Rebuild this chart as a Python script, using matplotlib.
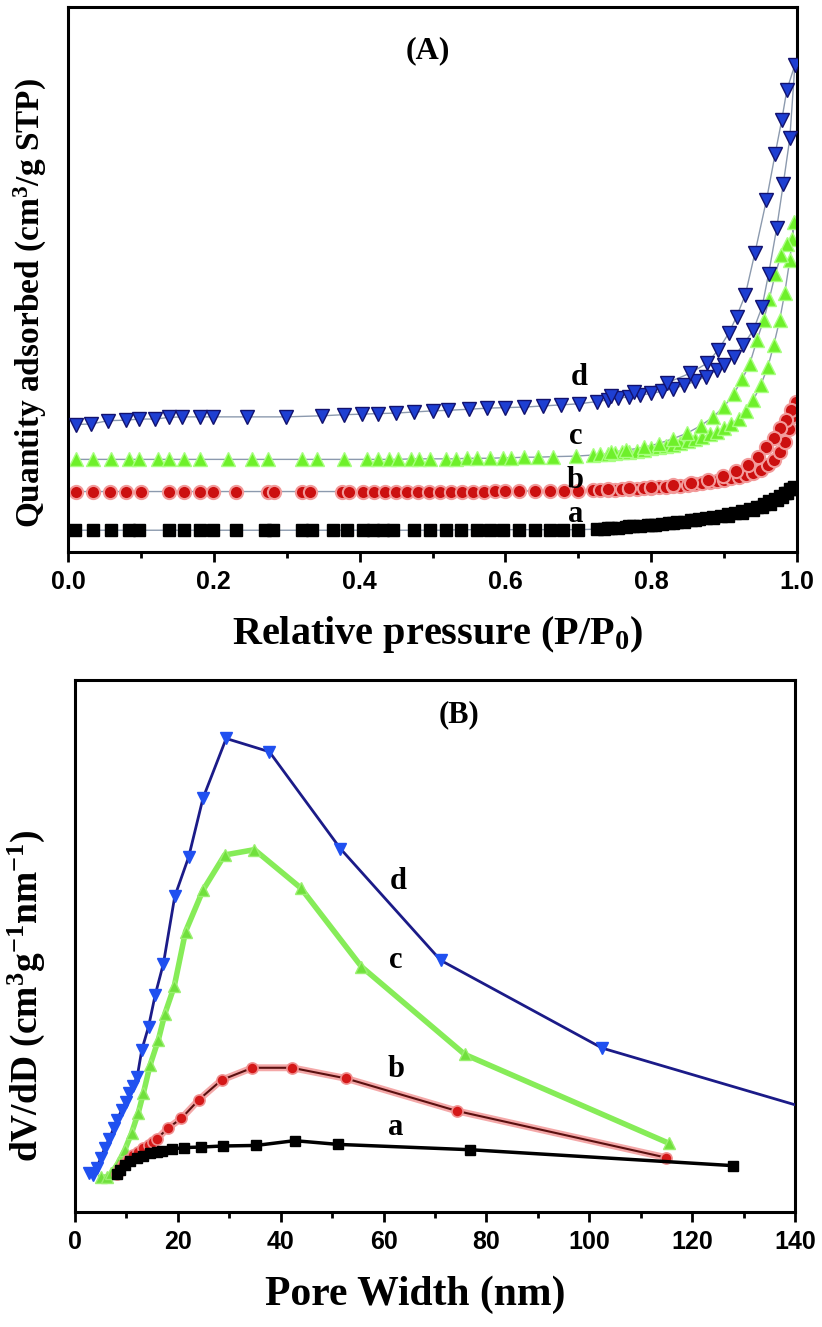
import numpy as np
import matplotlib
matplotlib.use('Agg')
import matplotlib.pyplot as plt
from matplotlib.ticker import MultipleLocator

plt.rcParams['font.family'] = 'Liberation Serif'
plt.rcParams['font.weight'] = 'bold'
plt.rcParams['mathtext.fontset'] = 'custom'
plt.rcParams['mathtext.rm'] = 'Liberation Serif:bold'
plt.rcParams['mathtext.bf'] = 'Liberation Serif:bold'
plt.rcParams['mathtext.it'] = 'Liberation Serif:bold'
plt.rcParams['xtick.labelsize'] = 18

# ---- (A) isotherms: adsorption then desorption, relative pressure vs quantity (a.u.)
pa = [0.009, 0.034, 0.059, 0.084, 0.098, 0.138, 0.159, 0.181, 0.199, 0.231, 0.270, 0.281,
      0.321, 0.335, 0.364, 0.382, 0.405, 0.418, 0.432, 0.446, 0.475, 0.496, 0.518, 0.539,
      0.561, 0.579, 0.597, 0.618, 0.640, 0.661, 0.679, 0.700,
      0.725, 0.735, 0.745, 0.755, 0.765, 0.775, 0.785, 0.795, 0.805, 0.815, 0.825, 0.835,
      0.845, 0.855, 0.865, 0.875, 0.885, 0.895, 0.905, 0.915, 0.925, 0.935, 0.945, 0.955,
      0.962, 0.970, 0.977, 0.984, 0.990, 0.996,
      0.993, 0.986, 0.979, 0.972, 0.963, 0.952, 0.940, 0.925, 0.905, 0.885, 0.860, 0.830,
      0.800, 0.770, 0.740]
qa = [4.0, 4.0, 4.0, 4.0, 4.0, 4.0, 4.0, 4.0, 4.0, 4.0, 4.0, 4.0,
      4.0, 4.0, 4.0, 4.0, 4.0, 4.0, 4.0, 4.0, 4.0, 4.0, 4.0, 4.1,
      4.1, 4.1, 4.1, 4.1, 4.1, 4.1, 4.1, 4.1,
      4.2, 4.3, 4.4, 4.5, 4.6, 4.7, 4.8, 4.9, 5.0, 5.2, 5.3, 5.5,
      5.6, 5.8, 6.0, 6.2, 6.4, 6.6, 6.9, 7.2, 7.5, 7.9, 8.3, 8.8,
      9.3, 9.8, 10.3, 10.9, 11.5, 12.0,
      11.6, 10.8, 10.1, 9.5, 8.9, 8.3, 7.7, 7.1, 6.6, 6.2, 5.8, 5.4,
      5.0, 4.7, 4.4]

pb = [0.011, 0.034, 0.057, 0.080, 0.100, 0.138, 0.159, 0.181, 0.199, 0.231, 0.274, 0.282,
      0.321, 0.332, 0.376, 0.385, 0.405, 0.420, 0.435, 0.450, 0.465, 0.480, 0.495, 0.510,
      0.525, 0.540, 0.555, 0.570, 0.585, 0.600, 0.618, 0.640, 0.661, 0.680, 0.700,
      0.720, 0.730, 0.740, 0.750, 0.760, 0.770, 0.780, 0.790, 0.800, 0.810, 0.820, 0.830,
      0.840, 0.850, 0.860, 0.870, 0.880, 0.890, 0.900, 0.910, 0.920, 0.930, 0.940, 0.950,
      0.960, 0.968, 0.976, 0.983, 0.989, 0.994, 0.998,
      0.992, 0.985, 0.977, 0.968, 0.958, 0.946, 0.932, 0.916, 0.898, 0.878, 0.855, 0.830,
      0.800, 0.770, 0.740]
qb = [11.1, 11.1, 11.1, 11.1, 11.1, 11.1, 11.1, 11.1, 11.1, 11.1, 11.1, 11.1,
      11.1, 11.1, 11.1, 11.1, 11.1, 11.1, 11.1, 11.1, 11.1, 11.1, 11.1, 11.1,
      11.1, 11.1, 11.1, 11.1, 11.2, 11.2, 11.2, 11.2, 11.2, 11.2, 11.2,
      11.3, 11.3, 11.4, 11.4, 11.5, 11.5, 11.6, 11.7, 11.8, 11.9, 12.0, 12.1,
      12.2, 12.3, 12.5, 12.6, 12.8, 13.0, 13.2, 13.5, 13.8, 14.1, 14.5, 15.1,
      15.9, 16.9, 18.4, 20.2, 22.5, 25.0, 27.6,
      26.0, 24.3, 22.8, 21.0, 19.2, 17.5, 16.0, 14.8, 13.9, 13.2, 12.7, 12.3,
      12.0, 11.7, 11.5]

pc = [0.011, 0.034, 0.059, 0.084, 0.098, 0.124, 0.138, 0.159, 0.181, 0.220, 0.253, 0.274,
      0.321, 0.342, 0.378, 0.410, 0.425, 0.440, 0.453, 0.471, 0.482, 0.496, 0.518, 0.532,
      0.547, 0.561, 0.579, 0.597, 0.608, 0.626, 0.644, 0.665, 0.697,
      0.720, 0.730, 0.740, 0.750, 0.760, 0.770, 0.780, 0.790, 0.800, 0.810, 0.820, 0.830,
      0.840, 0.850, 0.860, 0.870, 0.880, 0.890, 0.900, 0.910, 0.920, 0.930, 0.940, 0.950,
      0.960, 0.968, 0.976, 0.983, 0.990, 0.996,
      0.993, 0.986, 0.978, 0.970, 0.962, 0.954, 0.945, 0.935, 0.925, 0.913, 0.900, 0.885,
      0.868, 0.849, 0.830, 0.810, 0.790, 0.766, 0.745]
qc = [17.0, 17.0, 17.0, 17.0, 17.0, 17.0, 17.0, 17.0, 17.0, 17.0, 17.0, 17.0,
      17.0, 17.0, 17.0, 17.0, 17.0, 17.0, 17.0, 17.1, 17.1, 17.1, 17.1, 17.1,
      17.2, 17.2, 17.2, 17.3, 17.3, 17.4, 17.4, 17.5, 17.6,
      17.8, 17.9, 18.0, 18.1, 18.3, 18.4, 18.6, 18.8, 19.0, 19.2, 19.4, 19.7,
      20.0, 20.3, 20.7, 21.1, 21.6, 22.1, 22.7, 23.5, 24.5, 25.9, 27.9, 30.6,
      34.0, 38.0, 42.5, 47.5, 53.6, 60.5,
      57.5, 56.5, 54.5, 51.0, 46.5, 42.5, 38.9, 34.5, 31.8, 29.0, 26.7, 24.8,
      23.2, 21.8, 20.8, 19.9, 19.2, 18.7, 18.3]

pd_ = [0.011, 0.032, 0.055, 0.080, 0.098, 0.120, 0.138, 0.156, 0.181, 0.199, 0.245, 0.299,
       0.349, 0.378, 0.403, 0.425, 0.450, 0.475, 0.500, 0.521, 0.550, 0.575, 0.600, 0.626,
       0.651, 0.676, 0.701,
       0.725, 0.740, 0.755, 0.770, 0.785, 0.800, 0.815, 0.830, 0.845, 0.860, 0.875, 0.890,
       0.900, 0.913, 0.926, 0.940, 0.952, 0.961, 0.972, 0.981, 0.990, 0.997,
       0.986, 0.979, 0.970, 0.958, 0.942, 0.929, 0.917, 0.906, 0.892, 0.876, 0.853, 0.821,
       0.776, 0.745]
qd = [23.4, 23.5, 24.1, 24.2, 24.4, 24.4, 24.7, 24.8, 24.8, 24.8, 24.8, 24.8,
      25.0, 25.2, 25.3, 25.4, 25.5, 25.7, 25.9, 26.0, 26.2, 26.4, 26.5, 26.6,
      26.8, 27.0, 27.2,
      27.6, 27.9, 28.2, 28.5, 28.8, 29.1, 29.5, 30.0, 30.6, 31.3, 32.2, 33.4,
      34.4, 35.8, 38.0, 40.7, 45.0, 51.1, 59.4, 67.5, 75.9, 89.4,
      84.8, 79.3, 73.1, 64.6, 54.8, 47.2, 43.2, 40.1, 37.1, 34.6, 32.8, 31.0,
      29.4, 28.6]

# ---- (B) pore size distribution
wa = [8.2, 8.7, 9.7, 10.7, 12.0, 13.3, 14.6, 15.9, 16.9, 18.8, 21.2, 24.5, 28.8, 35.2,
      42.7, 51.1, 76.8, 128.0]
va = [7.1, 7.9, 8.8, 9.5, 10.1, 10.5, 11.0, 11.3, 11.5, 11.8, 12.1, 12.2, 12.4, 12.5,
      13.4, 12.7, 11.7, 8.7]

wb = [8.2, 8.6, 9.4, 10.4, 11.3, 12.3, 13.3, 14.3, 15.2, 16.0, 18.0, 20.7, 24.1, 28.5,
      34.5, 42.2, 52.7, 74.2, 115.0]
vb = [7.1, 7.9, 8.8, 9.8, 10.7, 11.3, 12.0, 12.6, 13.2, 13.8, 15.7, 17.6, 21.1, 24.8,
      27.1, 27.1, 25.1, 19.0, 10.2]

wc = [5.0, 6.2, 7.1, 8.4, 9.7, 11.0, 12.3, 13.3, 14.6, 16.2, 17.5, 19.3, 21.5, 24.9,
      29.1, 34.9, 43.9, 55.7, 75.8, 115.5]
vc = [6.5, 6.6, 7.3, 9.2, 11.7, 14.8, 18.6, 22.3, 27.6, 32.3, 37.3, 42.4, 52.7, 60.5,
      67.1, 68.1, 60.9, 46.1, 29.6, 12.9]

wd = [2.8, 3.6, 4.2, 5.0, 5.8, 6.7, 7.5, 8.2, 9.1, 9.9, 10.6, 11.2, 12.1, 13.0, 14.3,
      15.6, 17.2, 19.4, 22.1, 24.9, 29.4, 37.8, 51.6, 71.1, 102.5, 150.0]
vd = [7.3, 7.0, 8.2, 10.1, 12.0, 13.8, 15.7, 17.3, 19.2, 20.7, 22.3, 23.6, 25.4, 30.5,
      34.8, 40.8, 46.7, 59.3, 66.7, 77.8, 89.0, 86.5, 68.3, 47.3, 30.8, 17.3]

fig = plt.figure(figsize=(8.22, 13.27), dpi=100)
ax1 = fig.add_axes([0.0827, 0.584, 0.887, 0.4107])
ax2 = fig.add_axes([0.0912, 0.0867, 0.876, 0.4009])

# top panel
gray = '#8c9aae'
ax1.plot(pa, qa, '-', color=gray, lw=1, zorder=1)
ax1.plot(pb, qb, '-', color=gray, lw=1, zorder=1)
ax1.plot(pc, qc, '-', color=gray, lw=1, zorder=1)
ax1.plot(pd_, qd, '-', color=gray, lw=1, zorder=1)
ax1.plot(pa, qa, 's', ms=8.5, mfc='black', mec='black', zorder=2)
ax1.plot(pb, qb, 'o', ms=9.5, mfc='#cc1010', mec='#f29a9a', mew=1.5, zorder=2)
ax1.plot(pc, qc, '^', ms=9.5, mfc='#6ef02a', mec='#a8ff80', mew=1, zorder=2)
ax1.plot(pd_, qd, 'v', ms=9.5, mfc='#1e3fd2', mec='#12126e', mew=1, zorder=3)

ax1.set_xlim(0, 1)
ax1.set_ylim(0, 100)
ax1.set_yticks([])
ax1.set_xticks([0.0, 0.2, 0.4, 0.6, 0.8, 1.0])
ax1.set_xticklabels(['0.0', '0.2', '0.4', '0.6', '0.8', '1.0'])
ax1.xaxis.set_minor_locator(MultipleLocator(0.1))

ax1.text(0.493, 92, '(A)', ha='center', va='center', fontsize=23)
ax1.text(0.701, 32.0, 'd', ha='center', va='center', fontsize=22)
ax1.text(0.697, 21.2, 'c', ha='center', va='center', fontsize=22)
ax1.text(0.695, 13.2, 'b', ha='center', va='center', fontsize=22)
ax1.text(0.697, 6.9, 'a', ha='center', va='center', fontsize=22)

# bottom panel
ax2.plot(wd, vd, '-', color='#1b1b88', lw=2, zorder=4)
ax2.plot(wd, vd, 'v', ms=9, mfc='#2050f0', mec='#2050f0', zorder=5)
ax2.plot(wc, vc, '-', color='#86ec58', lw=4, zorder=2)
ax2.plot(wc, vc, '^', ms=8, mfc='#70e03c', mec='#9af070', zorder=3)
ax2.plot(wb, vb, '-', color='#f4a8a8', lw=5, zorder=2)
ax2.plot(wb, vb, '-', color='#5a1010', lw=1.5, zorder=3)
ax2.plot(wb, vb, 'o', ms=8, mfc='#d41818', mec='#f09090', mew=1.2, zorder=3)
ax2.plot(wa, va, '-', color='black', lw=2.5, zorder=3)
ax2.plot(wa, va, 's', ms=7.5, mfc='black', mec='black', zorder=3)

ax2.set_xlim(0, 140)
ax2.set_ylim(0, 100)
ax2.set_yticks([])
ax2.set_xticks([0, 20, 40, 60, 80, 100, 120, 140])
ax2.set_xticklabels(['0', '20', '40', '60', '80', '100', '120', '140'])
ax2.xaxis.set_minor_locator(MultipleLocator(10))

ax2.text(74.7, 93.5, '(B)', ha='center', va='center', fontsize=22)
ax2.text(62.9, 62.2, 'd', ha='center', va='center', fontsize=22)
ax2.text(62.4, 47.3, 'c', ha='center', va='center', fontsize=22)
ax2.text(62.4, 26.7, 'b', ha='center', va='center', fontsize=22)
ax2.text(62.4, 15.8, 'a', ha='center', va='center', fontsize=22)

for ax in (ax1, ax2):
    for s in ax.spines.values():
        s.set_linewidth(2.2)
    ax.tick_params(axis='x', which='major', direction='out', length=7, width=2, pad=6,
                   top=False, labelsize=18, labelfontfamily='Liberation Sans')
    ax.tick_params(axis='x', which='minor', direction='out', length=4.5, width=2, top=False)

# axis labels
fig.text(0.533, 0.5215, r'Relative pressure (P/P$_\mathbf{0}$)', ha='center', va='center',
         fontsize=29)
fig.text(0.0365, 0.772, r'Quantity adsorbed (cm$^\mathbf{3}$/g STP)', rotation=90,
         ha='center', va='center', fontsize=24)
fig.text(0.505, 0.024, 'Pore Width (nm)', ha='center', va='center', fontsize=30)
fig.text(0.032, 0.250, r'dV/dD (cm$^\mathbf{3}$g$^\mathbf{-1}$nm$^\mathbf{-1}$)', rotation=90,
         ha='center', va='center', fontsize=27)

fig.savefig('out.png', dpi=100)
